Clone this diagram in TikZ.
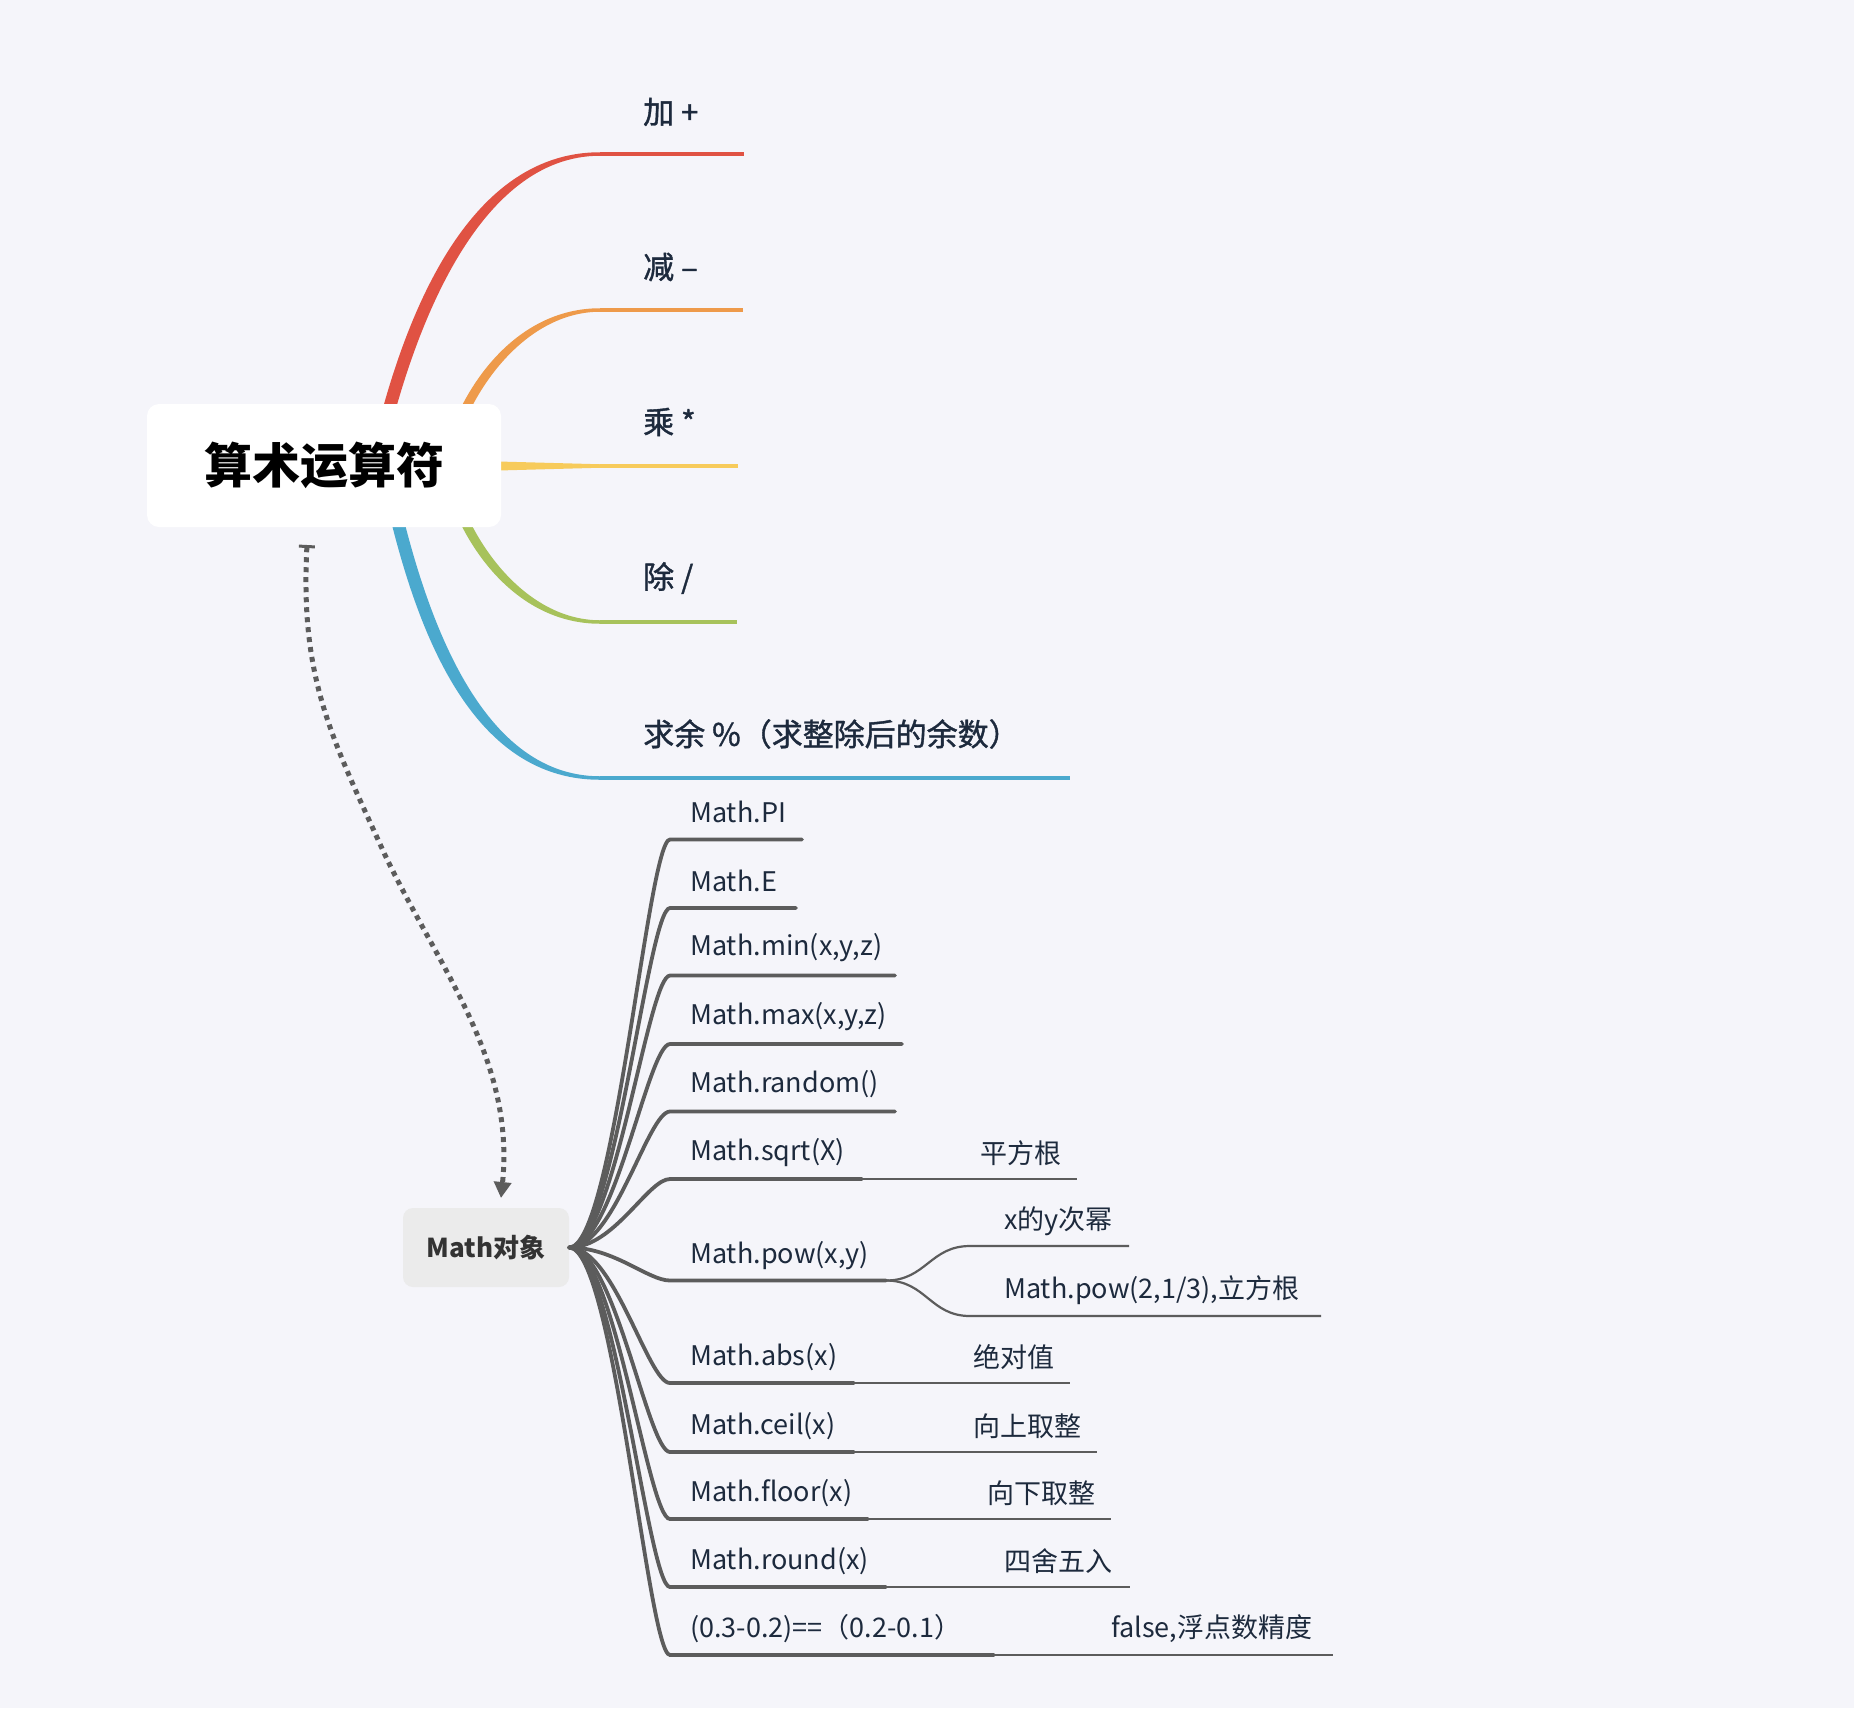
\documentclass[tikz,border=0pt]{standalone}
\usepackage{fontspec}
\usetikzlibrary{arrows.meta}
\newfontfamily\cjk{Noto Sans CJK SC}
\newfontfamily\cjkmed[FakeBold=1.2]{Noto Sans CJK SC}
\definecolor{bgc}{HTML}{F5F5FA}
\definecolor{cred}{HTML}{E05243}
\definecolor{corange}{HTML}{EE9A4A}
\definecolor{cyellow}{HTML}{F7CB5B}
\definecolor{cgreen}{HTML}{A7C25B}
\definecolor{cblue}{HTML}{4BA9CE}
\definecolor{cgray}{HTML}{5C5C5C}
\definecolor{txt}{HTML}{1D2A3D}
\definecolor{mboxc}{HTML}{EBEBEB}
% P0x P0y P1x P1y P2x P2y P3x P3y sign ; uses \wa (start width) \wb (end width) \wc (mid offset)
\newcommand\taperbranch[9]{%
  \fill ({#1-\wa/2},#2) .. controls ({#3-\wa/2},#4) and ({#5-\wc},{#6-#9*\wb/2}) .. (#7,{#8-#9*\wb/2})
     -- (#7,{#8+#9*\wb/2}) .. controls ({#5+\wc},{#6+#9*\wb/2}) and ({#3+\wa/2},#4) .. ({#1+\wa/2},#2) -- cycle;}
\tikzset{
  lbl/.style={anchor=west, inner sep=0pt, text=txt, font=\cjkmed\fontsize{31}{33}\selectfont},
  mlbl/.style={anchor=west, inner sep=0pt, text=txt, font=\cjk\fontsize{27}{29}\selectfont},
  mbranch/.style={draw=cgray, line width=3.8pt, line cap=round},
  mthin/.style={draw=cgray, line width=2.2pt},
  dotline/.style={draw=cgray, line width=5pt, dash pattern=on 5pt off 5pt},
  centerbox/.style={fill=white, rounded corners=12pt, minimum width=354pt, minimum height=123pt, inner sep=0pt,
     font=\cjk\bfseries\fontsize{48}{50}\selectfont, text=black},
  mathbox/.style={fill=mboxc, rounded corners=10pt, minimum width=166pt, minimum height=79pt, inner sep=0pt,
     font=\cjk\bfseries\fontsize{26}{28}\selectfont, text=black!80}
}
\begin{document}
\begin{tikzpicture}[x=1pt,y=-1pt]
\fill[bgc] (0,0) rectangle (1854,1708);
\useasboundingbox (0,0) rectangle (1854,1708);

% ---- top branches (drawn before the central box) ----
\def\wb{3.5}
\def\wa{13}\def\wc{8}
{\color{cred}\taperbranch{375}{466}{405}{330}{470}{154}{600}{154}{1}}
\def\wa{10}\def\wc{6}
{\color{corange}\taperbranch{445}{466}{462}{390}{520}{310}{600}{310}{1}}
{\color{cgreen}\taperbranch{445}{466}{462}{542}{520}{622}{600}{622}{-1}}
\def\wa{13}\def\wc{8}
{\color{cblue}\taperbranch{385}{466}{415}{610}{470}{778}{600}{778}{-1}}
\fill[cyellow] (480,461) -- (600,464.25) -- (600,467.75) -- (480,471) -- cycle;

\coordinate (r1) at (600,154);  \coordinate (e1) at (744,154);
\coordinate (r2) at (600,310);  \coordinate (e2) at (743,310);
\coordinate (r3) at (600,466);  \coordinate (e3) at (738,466);
\coordinate (r4) at (600,622);  \coordinate (e4) at (737,622);
\coordinate (r5) at (600,778);  \coordinate (e5) at (1070,778);
\draw[cred, line width=3.5pt] (r1) -- (e1);
\draw[corange, line width=3.5pt] (r2) -- (e2);
\draw[cyellow, line width=3.5pt] (r3) -- (e3);
\draw[cgreen, line width=3.5pt] (r4) -- (e4);
\draw[cblue, line width=3.5pt] (r5) -- (e5);

\node[centerbox] (root) at (324,465.5) {算术运算符};

\node[lbl] (t1) at (643,112) {加 +};
\node[lbl] (t2) at (643,267) {减 –};
\node[lbl] (t3) at (643,422) {乘 *};
\node[lbl] (t4) at (643,578) {除 /};
\node[lbl] (t5) at (643,734) {求余 \%（求整除后的余数）};

% ---- Math object ----
\node[mathbox] (math) at (486,1247.5) {Math对象};

\coordinate (c1) at (670,839.5);  \coordinate (d1) at (802,839.5);
\coordinate (c2) at (670,908);    \coordinate (d2) at (796,908);
\coordinate (c3) at (670,975.5);  \coordinate (d3) at (895,975.5);
\coordinate (c4) at (670,1044);   \coordinate (d4) at (902,1044);
\coordinate (c5) at (670,1111.5); \coordinate (d5) at (895,1111.5);
\coordinate (c6) at (670,1179);   \coordinate (d6) at (862,1179);   \coordinate (f6) at (1077,1179);
\coordinate (c7) at (670,1280.5); \coordinate (d7) at (886,1280.5);
\coordinate (c8) at (670,1383);   \coordinate (d8) at (854,1383);   \coordinate (f8) at (1070,1383);
\coordinate (c9) at (670,1452);   \coordinate (d9) at (854,1452);   \coordinate (f9) at (1097,1452);
\coordinate (c10) at (670,1519);  \coordinate (d10) at (868,1519);  \coordinate (f10) at (1111,1519);
\coordinate (c11) at (670,1587);  \coordinate (d11) at (886,1587);  \coordinate (f11) at (1130,1587);
\coordinate (c12) at (670,1655);  \coordinate (d12) at (994,1655);  \coordinate (f12) at (1333,1655);
\coordinate (p1) at (970,1246);   \coordinate (q1) at (1129,1246);
\coordinate (p2) at (970,1316);   \coordinate (q2) at (1321,1316);

\foreach \i in {1,...,12}{
  \draw[mbranch] (math.east) .. controls +(45,0) and +(-22,0) .. (c\i) -- (d\i);
}
\foreach \i in {6,8,9,10,11,12}{
  \draw[mthin] (d\i) -- (f\i);
}
\draw[mthin] (d7) .. controls +(40,0) and +(-40,0) .. (p1) -- (q1);
\draw[mthin] (d7) .. controls +(40,0) and +(-40,0) .. (p2) -- (q2);

\node[mlbl] (m1) at (690,812) {Math.PI};
\node[mlbl] (m2) at (690,881) {Math.E};
\node[mlbl] (m3) at (690,948) {Math.min(x,y,z)};
\node[mlbl] (m4) at (690,1017) {Math.max(x,y,z)};
\node[mlbl] (m5) at (690,1084) {Math.random()};
\node[mlbl] (m6) at (690,1153) {Math.sqrt(X)};
\node[mlbl] (m7) at (690,1256) {Math.pow(x,y)};
\node[mlbl] (m8) at (690,1357) {Math.abs(x)};
\node[mlbl] (m9) at (690,1426) {Math.ceil(x)};
\node[mlbl] (m10) at (690,1493) {Math.floor(x)};
\node[mlbl] (m11) at (690,1561) {Math.round(x)};
\node[mlbl] (m12) at (690,1629) {(0.3-0.2)==（0.2-0.1）};

\node[mlbl] (s6) at (980,1153) {平方根};
\node[mlbl] (s7a) at (1004,1221) {x的y次幂};
\node[mlbl] (s7b) at (1004,1290) {Math.pow(2,1/3),立方根};
\node[mlbl] (s8) at (973,1357) {绝对值};
\node[mlbl] (s9) at (973,1426) {向上取整};
\node[mlbl] (s10) at (987,1493) {向下取整};
\node[mlbl] (s11) at (1004,1561) {四舍五入};
\node[mlbl] (s12) at (1111,1629) {false,浮点数精度};

% ---- dotted relation ----
\coordinate (dstart) at (307,545);
\coordinate (dmid) at (385,855);
\coordinate (dend) at (501,1198);
\draw[dotline, {Bar[width=16pt,line width=3pt]}-{Triangle[width=17pt,length=16pt]}]
  (dstart) .. controls (300,680) and (332,738) .. (dmid) .. controls (440,970) and (515,1060) .. (dend);
\end{tikzpicture}
\end{document}
